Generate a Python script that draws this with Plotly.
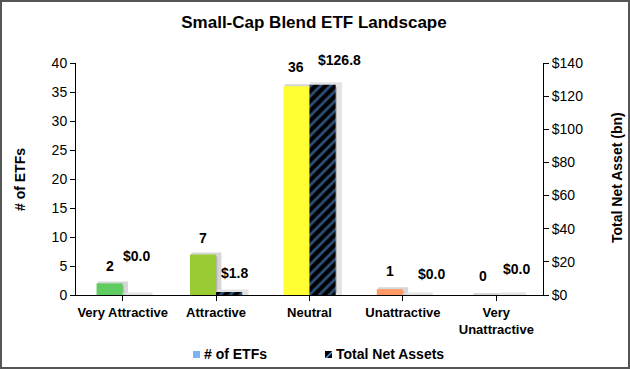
import plotly.graph_objects as go

categories = ["Very Attractive", "Attractive", "Neutral", "Unattractive", "Very<br>Unattractive"]
num_etfs = [2, 7, 36, 1, 0]
total_net_assets = [0.0, 1.8, 126.8, 0.0, 0.0]
etf_labels = ["2", "7", "36", "1", "0"]
tna_labels = ["$0.0", "$1.8", "$126.8", "$0.0", "$0.0"]
bar_colors = ["#5FCC5F", "#99CC33", "#FFFF33", "#FF9966", "#FF3333"]
legend_names = ["# of ETFs", "Total Net Assets"]

W, H = 630, 369
ML, MR, MT, MB = 76, 87, 63, 74
PW, PH = W - ML - MR, H - MT - MB
BW = 0.28
FONT = "Liberation Sans, Arial, sans-serif"
STRIPE = "#5BA3F5"


def px_x(p):
    return (p - ML) / PW


def px_y(p):
    return (H - MB - p) / PH


fig = go.Figure()
xs = list(range(len(categories)))

# bar shadows
shapes = []
for i, (v, t) in enumerate(zip(num_etfs, total_net_assets)):
    shapes.append(dict(type="rect", xref="x", yref="y", x0=i - BW + 0.035, x1=i + 0.035,
                       y0=0, y1=v, fillcolor="#B5B5B5", line=dict(color="#D6D6D6", width=4), layer="below"))
    shapes.append(dict(type="rect", xref="x", yref="y2", x0=i + 0.035, x1=i + BW + 0.04,
                       y0=0, y1=t, fillcolor="#B5B5B5", line=dict(color="#E3E3E3", width=5), layer="below"))

fig.add_trace(go.Bar(x=xs, y=num_etfs, yaxis="y", width=BW, offset=-BW, name=legend_names[0],
                     marker=dict(color=bar_colors, line=dict(width=0)), showlegend=False,
                     hoverinfo="skip"))
fig.add_trace(go.Bar(x=xs, y=total_net_assets, yaxis="y2", width=BW, offset=0, name=legend_names[1],
                     marker=dict(color="black", line=dict(width=0),
                                 pattern=dict(shape="/", fgcolor=STRIPE, bgcolor="black",
                                              size=7, solidity=0.38)),
                     showlegend=False, hoverinfo="skip"))

etf_yshift = [7, 6, 9, 8, 9]
tna_yshift = [29, 9, 15, 11, 16]
tna_xshift = [1, 5, 17, 16, 7]
annotations = []
bar_px = BW * PW / len(categories)
for i in xs:
    annotations.append(dict(x=i, y=num_etfs[i], xref="x", yref="y", text="<b>%s</b>" % etf_labels[i],
                            showarrow=False, yanchor="bottom", xshift=-bar_px / 2, yshift=etf_yshift[i],
                            font=dict(size=14, color="black", family=FONT)))
    annotations.append(dict(x=i, y=total_net_assets[i], xref="x", yref="y2", text="<b>%s</b>" % tna_labels[i],
                            showarrow=False, yanchor="bottom", xshift=bar_px / 2 + tna_xshift[i],
                            yshift=tna_yshift[i], font=dict(size=14, color="black", family=FONT)))

# axis titles
annotations.append(dict(x=px_x(20), y=px_y(180), xref="paper", yref="paper", text="<b># of ETFs</b>",
                        xanchor="center", yanchor="middle",
                        textangle=-90, showarrow=False, font=dict(size=14, family=FONT, color="black")))
annotations.append(dict(x=px_x(617), y=px_y(178), xref="paper", yref="paper",
                        xanchor="center", yanchor="middle",
                        text="<b>Total Net Asset (bn)</b>", textangle=-90, showarrow=False,
                        font=dict(size=14, family=FONT, color="black")))

# manual legend
annotations.append(dict(x=px_x(202), y=px_y(354), xref="paper", yref="paper", text="<b>%s</b>" % legend_names[0],
                        xanchor="left", yanchor="middle", showarrow=False,
                        font=dict(size=14, family=FONT, color="black")))
annotations.append(dict(x=px_x(334), y=px_y(354), xref="paper", yref="paper", text="<b>%s</b>" % legend_names[1],
                        xanchor="left", yanchor="middle", showarrow=False,
                        font=dict(size=14, family=FONT, color="black")))
shapes.append(dict(type="rect", xref="paper", yref="paper", x0=px_x(193), x1=px_x(200),
                   y0=px_y(358), y1=px_y(351), fillcolor="#7DB3F2", line=dict(width=0)))
shapes.append(dict(type="rect", xref="paper", yref="paper", x0=px_x(325), x1=px_x(332),
                   y0=px_y(358), y1=px_y(351), fillcolor=STRIPE, line=dict(width=0)))
shapes.append(dict(type="path", xref="paper", yref="paper",
                   path="M %f %f L %f %f L %f %f Z" % (px_x(325), px_y(358), px_x(332), px_y(351),
                                                        px_x(325), px_y(351)),
                   fillcolor="black", line=dict(width=0)))
shapes.append(dict(type="path", xref="paper", yref="paper",
                   path="M %f %f L %f %f L %f %f Z" % (px_x(327), px_y(358), px_x(332), px_y(358),
                                                        px_x(332), px_y(353)),
                   fillcolor="black", line=dict(width=0)))

# border around figure
shapes.append(dict(type="rect", xref="paper", yref="paper",
                   x0=px_x(1), x1=px_x(W - 1), y0=px_y(H - 1), y1=px_y(1),
                   line=dict(color="#555555", width=2), fillcolor="rgba(0,0,0,0)", layer="above"))

fig.update_layout(
    width=W, height=H,
    margin=dict(l=ML, r=MR, t=MT, b=MB, autoexpand=False),
    paper_bgcolor="white", plot_bgcolor="white",
    font=dict(family=FONT, color="black", size=13),
    title=dict(text="<b>Small-Cap Blend ETF Landscape</b>", x=314 / W, xanchor="center",
               y=1 - 22 / H, yanchor="middle", font=dict(size=17, family=FONT, color="black")),
    barmode="overlay",
    showlegend=False,
    xaxis=dict(tickmode="array", tickvals=xs, ticktext=["<b>%s</b>" % c for c in categories],
               range=[-0.5, len(categories) - 0.5], showline=True, linecolor="black", linewidth=1,
               ticks="outside", tickson="boundaries", ticklen=5, tickcolor="black", automargin=False,
               tickfont=dict(size=13, family=FONT), showgrid=False, zeroline=False),
    yaxis=dict(range=[0, 40], dtick=5, showline=True, linecolor="black", linewidth=1, automargin=False,
               ticks="outside", ticklen=5, tickcolor="black", showgrid=False, zeroline=False,
               tickfont=dict(size=14, family=FONT)),
    yaxis2=dict(range=[0, 140], dtick=20, overlaying="y", side="right", tickprefix="$", automargin=False,
                showline=True, linecolor="black", linewidth=1, ticks="outside", ticklen=5,
                tickcolor="black", showgrid=False, zeroline=False, tickfont=dict(size=14, family=FONT)),
    shapes=shapes, annotations=annotations,
)

fig.write_html("out.html", config={"displayModeBar": False},
               post_script="document.body.style.margin='0';document.body.style.overflow='hidden';")
